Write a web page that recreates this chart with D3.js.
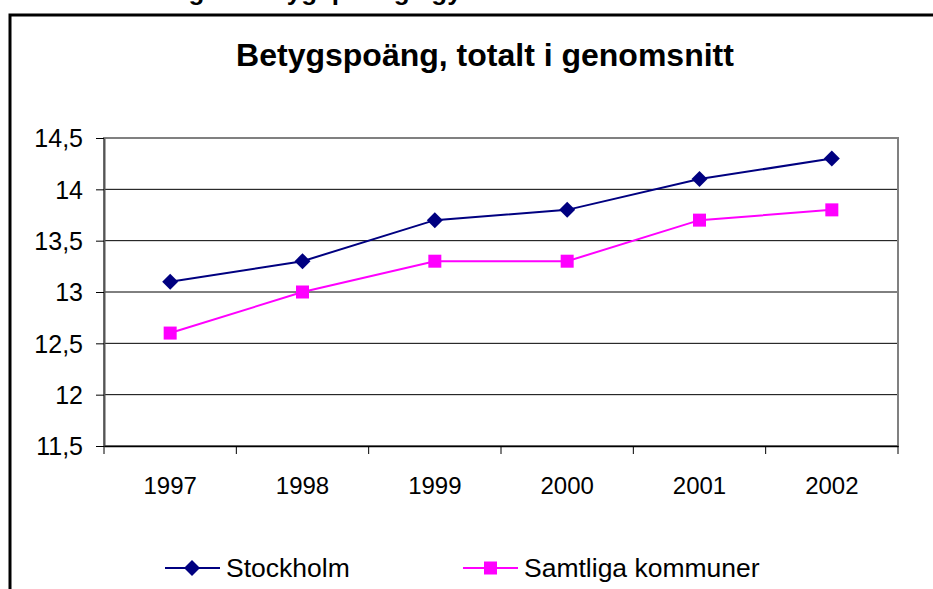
<!DOCTYPE html>
<html>
<head>
<meta charset="utf-8">
<script src="https://cdn.jsdelivr.net/npm/d3@7"></script>
<style>
  body { margin: 0; background: #fff; }
  text { font-family: Arial, "Liberation Sans", sans-serif; }
</style>
</head>
<body>
<div id="chart"></div>
<script>
const years = ["1997", "1998", "1999", "2000", "2001", "2002"];
const stockholm = [13.1, 13.3, 13.7, 13.8, 14.1, 14.3];
const samtliga = [12.6, 13.0, 13.3, 13.3, 13.7, 13.8];
const yTicks = [11.5, 12, 12.5, 13, 13.5, 14, 14.5];
const seriesNames = ["Stockholm", "Samtliga kommuner"];

const config = {
    margin: { top: 138, right: 35, bottom: 143, left: 104 },
    navy: "#000080",
    magenta: "#ff00ff"
};
config.width = 933 - config.margin.left - config.margin.right;
config.height = 589 - config.margin.top - config.margin.bottom;

const root = d3.select("#chart")
    .append("svg")
    .attr("width", 933)
    .attr("height", 589);

// heading of the page above, cut off by the crop
root.append("text")
    .attr("x", 73)
    .attr("y", 0)
    .style("font-size", "26px")
    .style("font-weight", "bold")
    .text("Utveckling av betygspoäng i gymnasiet");

// outer chart frame
root.append("rect")
    .attr("x", 10)
    .attr("y", 15)
    .attr("width", 1000)
    .attr("height", 1000)
    .style("fill", "none")
    .style("stroke", "#000")
    .style("stroke-width", 3);

root.append("text")
    .attr("x", 485)
    .attr("y", 66)
    .attr("text-anchor", "middle")
    .style("font-size", "32px")
    .style("font-weight", "bold")
    .text("Betygspoäng, totalt i genomsnitt");

const svg = root.append("g")
    .attr("transform", "translate(" + config.margin.left + "," + config.margin.top + ")");

const xScale = d3.scaleBand()
    .domain(years)
    .range([0, config.width]);

const yScale = d3.scaleLinear()
    .domain([11.5, 14.5])
    .range([config.height, 0]);

const fmt = d => String(d).replace(".", ",");

// gridlines
svg.append("g")
    .selectAll("line")
    .data(yTicks.slice(1, -1))
    .enter().append("line")
    .attr("x1", 0)
    .attr("x2", config.width)
    .attr("y1", d => yScale(d))
    .attr("y2", d => yScale(d))
    .style("stroke", "#000")
    .style("stroke-width", 1);

// plot area border (grey)
svg.append("rect")
    .attr("width", config.width)
    .attr("height", config.height)
    .style("fill", "none")
    .style("stroke", "#808080")
    .style("stroke-width", 2);

const yAxis = svg.append("g")
    .call(d3.axisLeft(yScale).tickValues(yTicks).tickSize(8).tickSizeOuter(0).tickFormat(fmt));
yAxis.select(".domain").style("stroke", "#555").style("stroke-width", 2);
yAxis.selectAll(".tick line").style("stroke", "#000");
yAxis.selectAll(".tick text")
    .attr("x", -21)
    .attr("dy", "0.35em")
    .style("font-size", "25px")
    .style("font-family", "Arial, 'Liberation Sans', sans-serif")
    .style("fill", "#000");

const xAxis = svg.append("g")
    .attr("transform", "translate(0," + config.height + ")")
    .call(d3.axisBottom(xScale).tickSize(0).tickSizeOuter(0));
xAxis.select(".domain").style("stroke", "#000").style("stroke-width", 1.5);
xAxis.selectAll(".tick text")
    .attr("y", 48)
    .attr("dy", 0)
    .style("font-size", "24px")
    .style("font-family", "Arial, 'Liberation Sans', sans-serif")
    .style("fill", "#000");

// category boundary ticks
const bounds = years.map(y => xScale(y)).concat([config.width]);
svg.append("g")
    .selectAll("line")
    .data(bounds)
    .enter().append("line")
    .attr("x1", d => d)
    .attr("x2", d => d)
    .attr("y1", config.height)
    .attr("y2", config.height + 8)
    .style("stroke", "#000");

const xc = (d, i) => xScale(years[i]) + xScale.bandwidth() / 2;

const line = d3.line()
    .x(xc)
    .y(d => yScale(d));

svg.append("path")
    .datum(samtliga)
    .attr("d", line)
    .style("fill", "none")
    .style("stroke", config.magenta)
    .style("stroke-width", 2);

svg.append("path")
    .datum(stockholm)
    .attr("d", line)
    .style("fill", "none")
    .style("stroke", config.navy)
    .style("stroke-width", 2);

const diamond = "M0,-8L8,0L0,8L-8,0Z";

svg.append("g")
    .selectAll("rect")
    .data(samtliga)
    .enter().append("rect")
    .attr("x", (d, i) => xc(d, i) - 6.5)
    .attr("y", d => yScale(d) - 6.5)
    .attr("width", 13)
    .attr("height", 13)
    .style("fill", config.magenta);

svg.append("g")
    .selectAll("path")
    .data(stockholm)
    .enter().append("path")
    .attr("transform", (d, i) => "translate(" + xc(d, i) + "," + yScale(d) + ")")
    .attr("d", diamond)
    .style("fill", config.navy);

// legend
const legend = root.append("g");
const legendItems = [
    { name: seriesNames[0], x: 165, color: config.navy, shape: "diamond" },
    { name: seriesNames[1], x: 463, color: config.magenta, shape: "square" }
];
legendItems.forEach(item => {
    const g = legend.append("g").attr("transform", "translate(" + item.x + ",568)");
    g.append("line")
        .attr("x1", 0).attr("x2", 55)
        .style("stroke", item.color)
        .style("stroke-width", 2);
    if (item.shape === "diamond") {
        g.append("path").attr("transform", "translate(27,0)").attr("d", diamond).style("fill", item.color);
    } else {
        g.append("rect").attr("x", 21).attr("y", -6.5).attr("width", 13).attr("height", 13).style("fill", item.color);
    }
    g.append("text")
        .attr("x", 61)
        .attr("y", 9)
        .style("font-size", "26.5px")
        .text(item.name);
});
</script>
</body>
</html>
